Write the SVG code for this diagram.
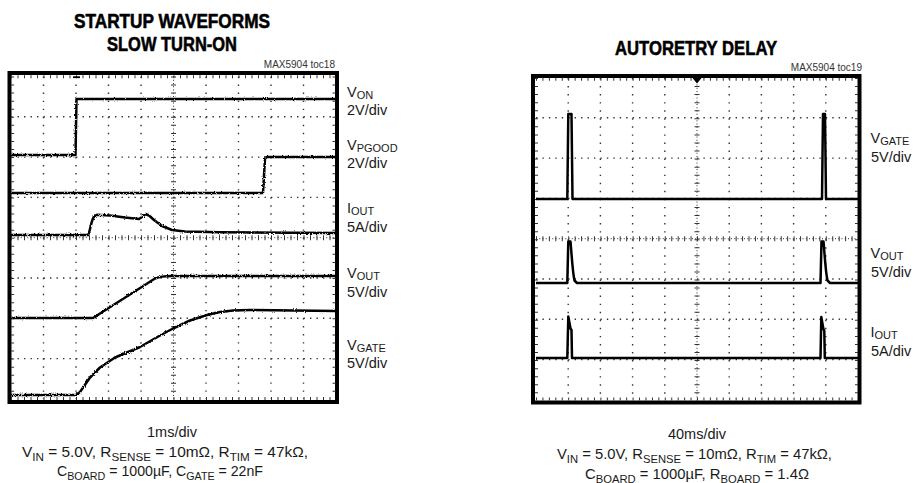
<svg xmlns="http://www.w3.org/2000/svg" width="914" height="483" viewBox="0 0 914 483">
<style>
.frame{fill:#fff;stroke:#000;stroke-width:4}
.gh{stroke:#333;stroke-width:1.4;stroke-dasharray:1.4 5.1;fill:none}
.gv{stroke:#333;stroke-width:1.4;stroke-dasharray:1.4 6.65;fill:none}
.ghr{stroke:#333;stroke-width:1.4;stroke-dasharray:1.4 5.04;fill:none}
.gvr{stroke:#333;stroke-width:1.4;stroke-dasharray:1.4 6.66;fill:none}
.cth{stroke:#333;stroke-width:1;stroke-dasharray:1 2.25;fill:none}
.tick{stroke:#333;fill:none}
.tr{fill:none;stroke:#000;stroke-width:2.5;stroke-linejoin:round;stroke-linecap:butt}
.fz{filter:url(#noise)}
.lbl{font-family:"Liberation Sans",Arial,Helvetica,sans-serif;font-size:14.5px;fill:#1a1a1a}
.cap{font-family:"Liberation Sans",Arial,Helvetica,sans-serif;font-size:14.5px;fill:#1a1a1a}
.sub{font-size:11px}
.ttl{font-family:"Liberation Sans",Arial,Helvetica,sans-serif;font-weight:bold;font-size:20.5px;fill:#000;stroke:#000;stroke-width:0.6}
.ref{font-family:"Liberation Sans",Arial,Helvetica,sans-serif;font-size:10px;fill:#333}
</style>
<defs>
<filter id="noise" x="-5%" y="-5%" width="110%" height="110%">
<feTurbulence type="fractalNoise" baseFrequency="0.9" numOctaves="1" seed="3" result="t"/>
<feDisplacementMap in="SourceGraphic" in2="t" scale="3" xChannelSelector="R" yChannelSelector="G"/>
</filter>
</defs>
<rect width="914" height="483" fill="#fff"/>

<g id="titles">
<text class="ttl" x="74" y="28" textLength="196" lengthAdjust="spacingAndGlyphs">STARTUP WAVEFORMS</text>
<text class="ttl" x="107" y="50.5" textLength="130" lengthAdjust="spacingAndGlyphs">SLOW TURN-ON</text>
<text class="ttl" x="615" y="55" textLength="162" lengthAdjust="spacingAndGlyphs">AUTORETRY DELAY</text>
<text class="ref" x="335" y="68" text-anchor="end">MAX5904 toc18</text>
<text class="ref" x="862" y="71" text-anchor="end">MAX5904 toc19</text>
</g>

<g id="scope-left">
<rect class="frame" x="9.5" y="73" width="327.5" height="329"/>
<g id="grid-left">
<path class="gh" d="M11,116.8H336M11,157.1H336M11,197.4H336M11,278H336M11,318.3H336M11,358.6H336"/>
<path class="gv" d="M43.5,76.5V399M76,76.5V399M108.5,76.5V399M141,76.5V399M206,76.5V399M238.5,76.5V399M271,76.5V399M303.5,76.5V399"/>
<path class="cth" d="M11,237.7H336M173.5,76.5V399"/>
<path class="tick" stroke-width="5" stroke-dasharray="1 5.5" d="M11,237.7H336"/>
<path class="tick" stroke-width="5" stroke-dasharray="1 7.06" d="M173.5,76.5V399"/>
<path class="tick" stroke-width="3" stroke-dasharray="1 5.5" d="M11,76.8H336M11,398.5H336"/>
<path class="tick" stroke-width="3" stroke-dasharray="1 7.06" d="M12.6,76.5V399M334,76.5V399"/>
<path d="M73,77.2H80" stroke="#000" stroke-width="1.8"/>
</g>
<g id="traces-left">
<path class="tr fz" id="von" d="M11,155 L75.5,155 L76.5,99 L336,99"/>
<path class="tr fz" id="vpgood" d="M11,193 L263,193 L265,158.5 L267,157 L336,157"/>
<path class="tr fz" id="iout-l" stroke-width="3" d="M11,235 L88,235 C90,232 91,221 94,216.5 L97,214.8 L110,215.5 L125,217.5 L139,219 L142,217 L145.5,214 L149,215.5 L154,220 L162,226 L172,230 L185,231.5 L220,232.3 L336,233"/>
<path class="tr fz" id="vout-l" d="M11,318 L93,318 L155,278.5 C160,276.5 165,276 172,276 L336,276"/>
<path class="tr fz" id="vgate-l" stroke="#222" stroke-width="3.2" d="M11,395 L76,395 L80,392 L90,377.5 L100,367.5 L115,357.5 L140,347 L160,335.5 L173,328.5 L190,320.5 L207,315 L220,312 L233,310.5 L250,310 L336,311"/>
</g>
</g>

<g id="labels-left">
<text class="lbl" x="347" y="97">V<tspan class="sub" dy="1.5">ON</tspan></text>
<text class="lbl" x="347" y="115">2V/div</text>
<text class="lbl" x="347" y="150">V<tspan class="sub" dy="1.5">PGOOD</tspan></text>
<text class="lbl" x="347" y="168">2V/div</text>
<text class="lbl" x="347" y="213">I<tspan class="sub" dy="1.5">OUT</tspan></text>
<text class="lbl" x="347" y="232">5A/div</text>
<text class="lbl" x="347" y="278">V<tspan class="sub" dy="1.5">OUT</tspan></text>
<text class="lbl" x="347" y="296.5">5V/div</text>
<text class="lbl" x="347" y="350">V<tspan class="sub" dy="1.5">GATE</tspan></text>
<text class="lbl" x="347" y="368">5V/div</text>
</g>

<g id="caption-left">
<text class="cap" x="172" y="437" text-anchor="middle">1ms/div</text>
<text class="cap" x="22" y="457" textLength="286" lengthAdjust="spacingAndGlyphs">V<tspan class="sub" dy="3.5">IN</tspan><tspan dy="-3.5"> = 5.0V, R</tspan><tspan class="sub" dy="3.5">SENSE</tspan><tspan dy="-3.5"> = 10mΩ, R</tspan><tspan class="sub" dy="3.5">TIM</tspan><tspan dy="-3.5"> = 47kΩ,</tspan></text>
<text class="cap" x="57" y="476" textLength="206" lengthAdjust="spacingAndGlyphs">C<tspan class="sub" dy="3.5">BOARD</tspan><tspan dy="-3.5"> = 1000µF, C</tspan><tspan class="sub" dy="3.5">GATE</tspan><tspan dy="-3.5"> = 22nF</tspan></text>
</g>

<g id="scope-right">
<rect class="frame" x="533" y="76" width="326.5" height="326.5"/>
<g id="grid-right">
<path class="ghr" d="M536,117.8H858M536,158.1H858M536,198.4H858M536,279H858M536,319.3H858M536,359.6H858"/>
<path class="gvr" d="M568.2,78V400.5M600.4,78V400.5M632.6,78V400.5M664.8,78V400.5M729.2,78V400.5M761.4,78V400.5M793.6,78V400.5M825.8,78V400.5"/>
<path class="cth" d="M536,238.7H858M697,78V400.5"/>
<path class="tick" stroke-width="5" stroke-dasharray="1 5.44" d="M536,238.7H858"/>
<path class="tick" stroke-width="5" stroke-dasharray="1 7.06" d="M697,78V400.5"/>
<path class="tick" stroke-width="3" stroke-dasharray="1 5.44" d="M536,79.3H858M536,399H858"/>
<path class="tick" stroke-width="3" stroke-dasharray="1 7.06" d="M536.5,78V400.5M856.5,78V400.5"/>
<polygon points="692.5,78 701.5,78 697,83.5" fill="#000"/>
</g>
<g id="traces-right">
<path class="tr" id="vgate-r" d="M536,199 L567.3,199 L568.3,114 L571.5,114 L572.5,199 L822,199 L823,114 L825,114 L826,199 L858,199"/>
<path class="tr" id="vout-r" d="M536,283 L567.3,283 L568.3,241.5 L570.5,241.5 C571.5,252 572.5,272 574.5,280.5 L577,283 L820.5,283 L821.5,241.5 L823.5,241.5 C824.5,252 825.5,272 827.5,280.5 L830,283 L858,283"/>
<path class="tr" id="iout-r" d="M536,358 L567.3,358 L568.3,316.5 L570.5,328.5 L571.5,330 L572,358 L820.5,358 L821.3,317 L823.3,328.5 L824.3,331 L824.8,358 L858,358"/>
</g>
</g>

<g id="labels-right">
<text class="lbl" x="870.5" y="143">V<tspan class="sub" dy="1.5">GATE</tspan></text>
<text class="lbl" x="871" y="162">5V/div</text>
<text class="lbl" x="870.5" y="258">V<tspan class="sub" dy="1.5">OUT</tspan></text>
<text class="lbl" x="871" y="277">5V/div</text>
<text class="lbl" x="870.5" y="337">I<tspan class="sub" dy="1.5">OUT</tspan></text>
<text class="lbl" x="871" y="355.5">5A/div</text>
</g>

<g id="caption-right">
<text class="cap" x="697" y="439" text-anchor="middle">40ms/div</text>
<text class="cap" x="557" y="459" textLength="275" lengthAdjust="spacingAndGlyphs">V<tspan class="sub" dy="3.5">IN</tspan><tspan dy="-3.5"> = 5.0V, R</tspan><tspan class="sub" dy="3.5">SENSE</tspan><tspan dy="-3.5"> = 10mΩ, R</tspan><tspan class="sub" dy="3.5">TIM</tspan><tspan dy="-3.5"> = 47kΩ,</tspan></text>
<text class="cap" x="585" y="479" textLength="224" lengthAdjust="spacingAndGlyphs">C<tspan class="sub" dy="3.5">BOARD</tspan><tspan dy="-3.5"> = 1000µF, R</tspan><tspan class="sub" dy="3.5">BOARD</tspan><tspan dy="-3.5"> = 1.4Ω</tspan></text>
</g>
</svg>
